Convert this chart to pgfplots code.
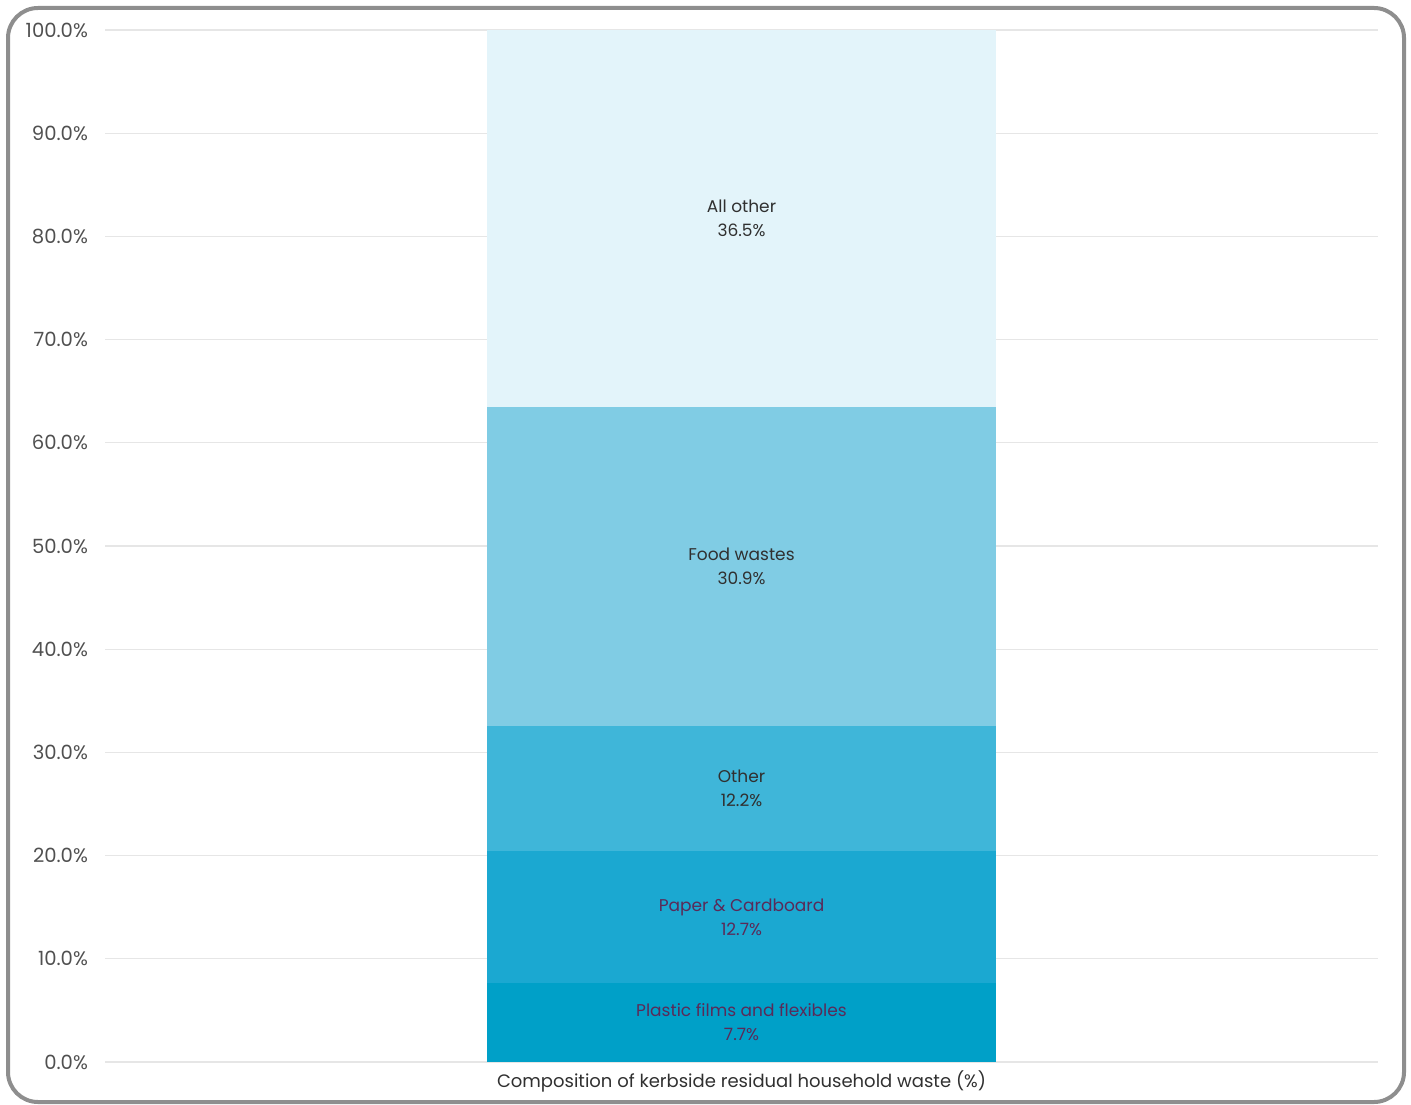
\documentclass[border=0pt]{standalone}
\usepackage{pgfplots}
\pgfplotsset{compat=1.18}
\usepackage{fontspec}
\setmainfont{Poppins}
\definecolor{c1}{HTML}{00A0C8}
\definecolor{c2}{HTML}{1BA8D1}
\definecolor{c3}{HTML}{3FB6D9}
\definecolor{c4}{HTML}{80CCE4}
\definecolor{c5}{HTML}{E3F4FA}
\definecolor{framec}{HTML}{8E8E8E}
\definecolor{gridc}{HTML}{E6E6E6}
\definecolor{tickc}{HTML}{505050}
\definecolor{labc}{HTML}{303030}
\definecolor{purp}{HTML}{5A2A58}
\tikzset{seglab/.style={align=center, font=\fontsize{8.5}{12}\selectfont}}
\begin{document}
\begin{tikzpicture}
\path[use as bounding box] (0pt,0pt) rectangle (705.5pt,552pt);
\draw[framec, line width=2pt, rounded corners=15pt] (4pt,1pt) rectangle (702pt,548pt);
\begin{axis}[
  at={(52.5pt,21pt)}, anchor=south west,
  scale only axis, width=636.5pt, height=516pt,
  xmin=-1.25, xmax=1.25, ymin=0, ymax=100,
  ybar stacked, bar width=254.6pt,
  axis line style={draw=none},
  major tick length=0pt,
  ytick={0,10,...,100},
  ymajorgrids, grid style={gridc, line width=0.6pt},
  yticklabel={\pgfmathprintnumber[fixed,fixed zerofill,precision=1,assume math mode=true]{\tick}\%},
  yticklabel style={font=\fontsize{9.8}{11}\selectfont, text=tickc, anchor=east, xshift=-5pt},
  xtick={0}, xticklabels={Composition of kerbside residual household waste (\%)},
  xticklabel style={font=\fontsize{9}{11}\selectfont, text=labc, yshift=-1pt},
  clip=false,
]
\addplot[fill=c1, draw=none] coordinates {(0,7.7)};
\addplot[fill=c2, draw=none] coordinates {(0,12.7)};
\addplot[fill=c3, draw=none] coordinates {(0,12.2)};
\addplot[fill=c4, draw=none] coordinates {(0,30.9)};
\addplot[fill=c5, draw=none] coordinates {(0,36.5)};
\coordinate (l1) at (axis cs:0,3.85);
\coordinate (l2) at (axis cs:0,14.05);
\coordinate (l3) at (axis cs:0,26.5);
\coordinate (l4) at (axis cs:0,48.05);
\coordinate (l5) at (axis cs:0,81.75);
\end{axis}
\node[seglab, text=purp] at (l1) {Plastic films and flexibles\\7.7\%};
\node[seglab, text=purp] at (l2) {Paper \& Cardboard\\12.7\%};
\node[seglab, text=labc] at (l3) {Other\\12.2\%};
\node[seglab, text=labc] at (l4) {Food wastes\\30.9\%};
\node[seglab, text=labc] at (l5) {All other\\36.5\%};
\end{tikzpicture}
\end{document}
